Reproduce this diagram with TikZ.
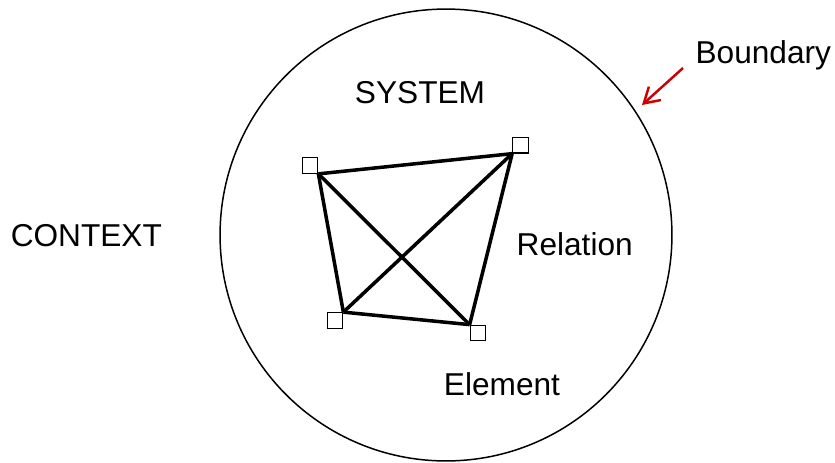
\documentclass[tikz,border=0pt]{standalone}
\usepackage{fontspec}
\setmainfont{Liberation Sans}
\usetikzlibrary{arrows.meta}
\begin{document}
\begin{tikzpicture}[x=0.02cm,y=-0.02cm,
  lbl/.style={anchor=base,inner sep=0,font=\fontsize{18}{22}\selectfont},
  elem/.style={shape=rectangle,draw=black,line width=0.7pt,minimum size=0.31cm,inner sep=0},
  rel/.style={line width=2pt},
  bnd/.style={shape=circle,draw=black,line width=0.85pt,minimum size=9.04cm,inner sep=0},
  pointer/.style={draw={rgb,255:red,204;green,0;blue,0},line width=1.4pt,-{Straight Barb[length=0.3cm,width=0.36cm]}}]
\useasboundingbox (0,0) rectangle (835,463);

\node[bnd] (sys) at (446,235) {};

\node[lbl] (S) at (420,103.3) {SYSTEM};
\node[lbl] (C) at (86.3,246.7) {CONTEXT};
\node[lbl] (R) at (574.7,255.7) {Relation};
\node[lbl] (E) at (502,395) {Element};
\node[lbl] (B) at (763.3,63.3) {Boundary};

\node[elem] (e1) at (310,165.5) {};
\node[elem] (e2) at (520.5,145.3) {};
\node[elem] (e3) at (335,320.5) {};
\node[elem] (e4) at (478,333) {};

%RELATIONS
\draw[rel] (e1.south east) -- (e2.south west);
\draw[rel] (e1.south east) -- (e3.north east);
\draw[rel] (e1.south east) -- (e4.north west);
\draw[rel] (e2.south west) -- (e3.north east);
\draw[rel] (e2.south west) -- (e4.north west);
\draw[rel] (e3.north east) -- (e4.north west);

%ARROW
\coordinate (Bs) at (683,68);
\coordinate (Bt) at (642,105);
\draw[pointer] (Bs) -- (Bt);
\end{tikzpicture}
\end{document}
